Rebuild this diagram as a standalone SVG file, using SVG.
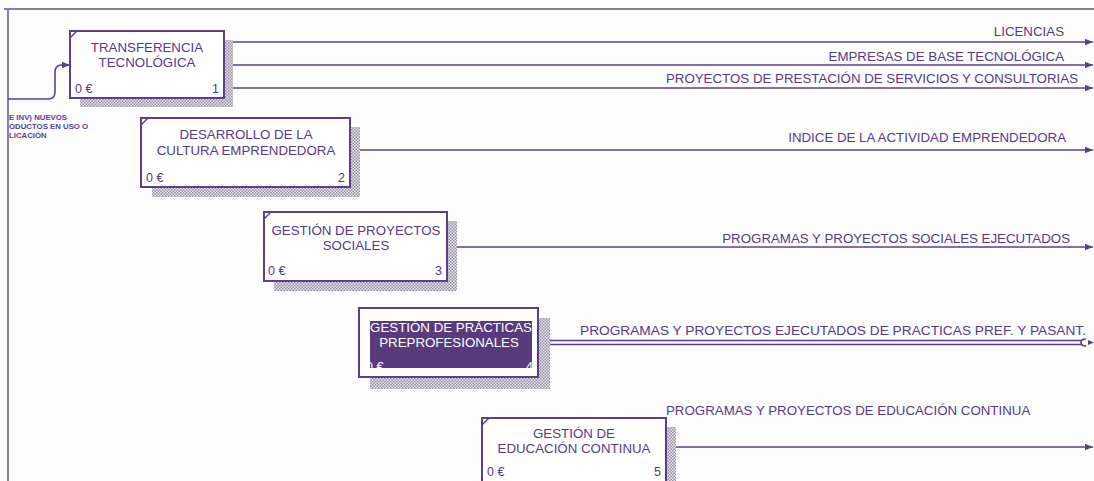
<svg xmlns="http://www.w3.org/2000/svg" width="1094" height="481" viewBox="0 0 1094 481">
  <defs>
    <pattern id="hatch" width="3" height="3" patternUnits="userSpaceOnUse">
      <rect width="3" height="3" fill="#e4e2e8"/>
      <rect x="0" y="0" width="1.5" height="1.5" fill="#9a94a6"/>
      <rect x="1.5" y="1.5" width="1.5" height="1.5" fill="#9a94a6"/>
    </pattern>
    <marker id="arrow" viewBox="0 0 10 10" refX="10" refY="5" markerWidth="12" markerHeight="8" markerUnits="userSpaceOnUse" orient="auto">
      <path d="M0,1 L10,5 L0,9 z" fill="#5b3f8c"/>
    </marker>
    <style>
      .frame { stroke: #8c7cab; stroke-width: 2; fill: none; }
      .box { fill: #ffffff; stroke: #5b3f8c; stroke-width: 2; }
      .tick { stroke: #5b3f8c; stroke-width: 1.5; }
      .shadow { fill: url(#hatch); }
      .wire { stroke: #5b3f8c; stroke-width: 1.6; fill: none; }
      .label { font-family: "Liberation Sans", Arial, sans-serif; font-size: 13.3px; fill: #543a86; }
      .title { font-family: "Liberation Sans", Arial, sans-serif; font-size: 13.3px; fill: #543a86; text-anchor: middle; }
      .small { font-family: "Liberation Sans", Arial, sans-serif; font-size: 12.5px; fill: #543a86; }
      .tiny { font-family: "Liberation Sans", Arial, sans-serif; font-size: 7.8px; font-weight: bold; fill: #5b3f8c; }
      .end { text-anchor: end; }
      .inv { fill: #ffffff; }
    </style>
  </defs>

  <rect width="1094" height="481" fill="#fdfdfd"/>

  <!-- diagram frame -->
  <path class="frame" d="M4,9 H1094 M8,9 V481"/>

  <!-- connectors -->
  <g id="connectors">
    <!-- input to box 1 -->
    <path class="wire" d="M8,99 H48 Q55,99 55,92 V72 Q55,65 62,65 H70" marker-end="url(#arrow)"/>
    <text class="tiny" x="9" y="120">E INV) NUEVOS</text>
    <text class="tiny" x="9" y="129">ODUCTOS EN USO O</text>
    <text class="tiny" x="9" y="138">LICACIÓN</text>

    <!-- box 1 outputs -->
    <path class="wire" d="M224,42 H1093" marker-end="url(#arrow)"/>
    <path class="wire" d="M224,65 H1093" marker-end="url(#arrow)"/>
    <path class="wire" d="M224,88 H1093" marker-end="url(#arrow)"/>
    <text class="label end" x="1064" y="36">LICENCIAS</text>
    <text class="label end" x="1064" y="61">EMPRESAS DE BASE TECNOLÓGICA</text>
    <text class="label end" x="1078" y="83">PROYECTOS DE PRESTACIÓN DE SERVICIOS Y CONSULTORIAS</text>

    <!-- box 2 output -->
    <path class="wire" d="M360,150 H1093" marker-end="url(#arrow)"/>
    <text class="label end" x="1066" y="142">INDICE DE LA ACTIVIDAD EMPRENDEDORA</text>

    <!-- box 3 output -->
    <path class="wire" d="M457,247 H1093" marker-end="url(#arrow)"/>
    <text class="label end" x="1070" y="243">PROGRAMAS Y PROYECTOS SOCIALES EJECUTADOS</text>

    <!-- box 4 output (double line) -->
    <path class="wire" d="M538,340.5 H1082 M538,344.5 H1082"/>
    <path class="wire" d="M1086,339 Q1081,339 1081,342.5 Q1081,346 1086,346" stroke-width="1.3"/>
    <path d="M1088,340 L1094,342.5 L1088,345 z" fill="#5b3f8c"/>
    <text class="label" x="580" y="335" textLength="506" lengthAdjust="spacingAndGlyphs">PROGRAMAS Y PROYECTOS EJECUTADOS DE PRACTICAS PREF. Y PASANT.</text>

    <!-- box 5 output -->
    <path class="wire" d="M676,447 H1093" marker-end="url(#arrow)"/>
    <text class="label" x="666" y="415">PROGRAMAS Y PROYECTOS DE EDUCACIÓN CONTINUA</text>
  </g>

  <!-- box 1 -->
  <g id="node1">
    <path class="shadow" d="M224,40 H233 V107 H80 V98 H224 z"/>
    <rect class="box" x="70" y="31" width="154" height="67"/>
    <line class="tick" x1="70" y1="38" x2="77" y2="31"/>
    <text class="title" x="147" y="52">TRANSFERENCIA</text>
    <text class="title" x="147" y="67">TECNOLÓGICA</text>
    <text class="small" x="75" y="93">0 €</text>
    <text class="small end" x="219" y="93">1</text>
  </g>

  <!-- box 2 -->
  <g id="node2">
    <path class="shadow" d="M350,127 H360 V197 H152 V187 H350 z"/>
    <rect class="box" x="141" y="118" width="209" height="69"/>
    <line class="tick" x1="141" y1="125" x2="148" y2="118"/>
    <text class="title" x="246" y="139">DESARROLLO DE LA</text>
    <text class="title" x="246" y="155">CULTURA EMPRENDEDORA</text>
    <text class="small" x="146" y="182">0 €</text>
    <text class="small end" x="345" y="182">2</text>
  </g>

  <!-- box 3 -->
  <g id="node3">
    <path class="shadow" d="M447,221 H457 V291 H274 V281 H447 z"/>
    <rect class="box" x="264" y="212" width="183" height="69"/>
    <line class="tick" x1="264" y1="219" x2="271" y2="212"/>
    <text class="title" x="356" y="235">GESTIÓN DE PROYECTOS</text>
    <text class="title" x="356" y="250">SOCIALES</text>
    <text class="small" x="268" y="275">0 €</text>
    <text class="small end" x="442" y="275">3</text>
  </g>

  <!-- box 4 (selected) -->
  <g id="node4">
    <path class="shadow" d="M538,318 H550 V389 H370 V377 H538 z"/>
    <rect class="box" x="359" y="308" width="179" height="69"/>
    <rect x="370" y="321" width="162" height="47" fill="#573b7c"/>
    <text class="title inv" x="451" y="332">GESTIÓN DE PRÁCTICAS</text>
    <text class="title inv" x="449" y="347">PREPROFESIONALES</text>
    <text class="small inv" x="366" y="371">0 €</text>
    <text class="small inv end" x="533" y="371">4</text>
  </g>

  <!-- box 5 -->
  <g id="node5">
    <path class="shadow" d="M666,427 H676 V481 H666 z"/>
    <rect class="box" x="482" y="418" width="184" height="70"/>
    <line class="tick" x1="482" y1="425" x2="489" y2="418"/>
    <text class="title" x="574" y="438">GESTIÓN DE</text>
    <text class="title" x="574" y="453">EDUCACIÓN CONTINUA</text>
    <text class="small" x="487" y="476">0 €</text>
    <text class="small end" x="661" y="476">5</text>
  </g>
</svg>
